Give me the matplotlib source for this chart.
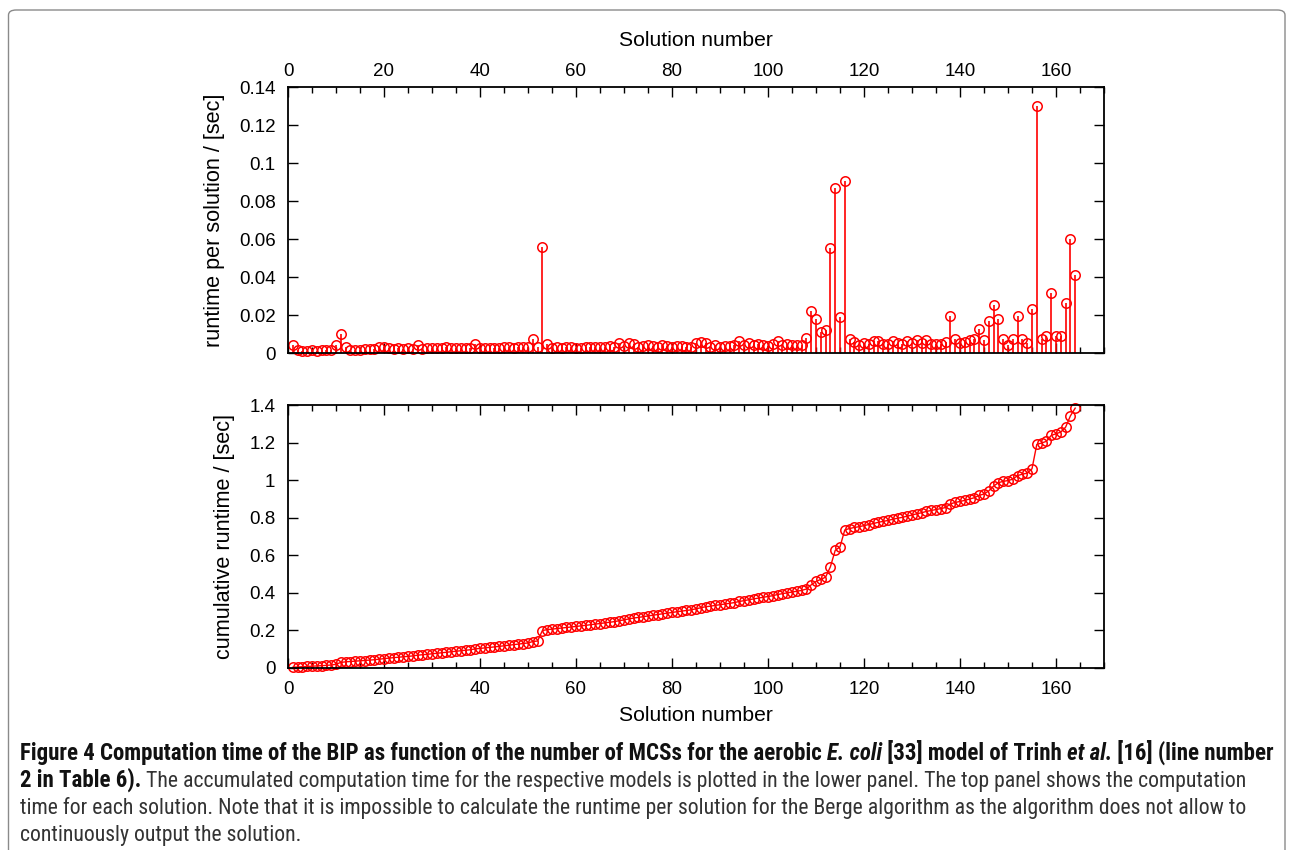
import numpy as np
import matplotlib
matplotlib.use('Agg')
import matplotlib.pyplot as plt
from matplotlib import font_manager
from matplotlib.patches import FancyBboxPatch
from matplotlib.ticker import MultipleLocator, FormatStrFormatter

W, H = 1293, 850

# runtime per solution [sec], solutions 1..164
runtime = [
    0.0040, 0.0015, 0.0012, 0.0013, 0.0015, 0.0012, 0.0016, 0.0018, 0.0017, 0.0040,
    0.0100, 0.0030, 0.0018, 0.0015, 0.0017, 0.0020, 0.0022, 0.0020, 0.0030, 0.0032,
    0.0025, 0.0022, 0.0025, 0.0022, 0.0024, 0.0023, 0.0040, 0.0022, 0.0024, 0.0026,
    0.0028, 0.0025, 0.0030, 0.0028, 0.0027, 0.0026, 0.0025, 0.0027, 0.0045, 0.0026,
    0.0028, 0.0027, 0.0026, 0.0028, 0.0030, 0.0029, 0.0028, 0.0030, 0.0032, 0.0034,
    0.0074, 0.0030, 0.0558, 0.0045, 0.0028, 0.0030, 0.0027, 0.0030, 0.0030,
    0.0028, 0.0026, 0.0030, 0.0033, 0.0030, 0.0032, 0.0034, 0.0036, 0.0033, 0.0052,
    0.0038, 0.0055, 0.0045, 0.0034, 0.0038, 0.0042, 0.0036, 0.0034, 0.0042, 0.0038,
    0.0034, 0.0038, 0.0036, 0.0032, 0.0034, 0.0052, 0.0058, 0.0055, 0.0030, 0.0042,
    0.0034, 0.0038, 0.0036, 0.0040, 0.0062, 0.0040, 0.0052, 0.0042, 0.0048, 0.0042,
    0.0038, 0.0045, 0.0062, 0.0042, 0.0046, 0.0044, 0.0043, 0.0042, 0.0077, 0.0220,
    0.0180, 0.0110, 0.0120, 0.0554, 0.0870, 0.0188, 0.0905, 0.0072, 0.0056, 0.0042,
    0.0055, 0.0050, 0.0065, 0.0065, 0.0050, 0.0046, 0.0065, 0.0055, 0.0046, 0.0065,
    0.0055, 0.0070, 0.0055, 0.0070, 0.0050, 0.0050, 0.0050, 0.0058, 0.0195, 0.0072,
    0.0055, 0.0058, 0.0070, 0.0072, 0.0126, 0.0070, 0.0170, 0.0253, 0.0180, 0.0072,
    0.0042, 0.0072, 0.0195, 0.0072, 0.0055, 0.0233, 0.1300, 0.0072, 0.0089, 0.0314,
    0.0088, 0.0090, 0.0262, 0.0602, 0.0412,
]
solution = np.arange(1, len(runtime) + 1)
cumulative = np.cumsum(runtime)

caption_lines = [
    [("Figure 4 Computation time of the BIP as function of the number of MCSs for the aerobic ", 'bold', 'normal'),
     ("E. coli", 'bold', 'italic'),
     (" [33] model of Trinh ", 'bold', 'normal'),
     ("et al.", 'bold', 'italic'),
     (" [16] (line number", 'bold', 'normal')],
    [("2 in Table 6).", 'bold', 'normal'),
     (" The accumulated computation time for the respective models is plotted in the lower panel. The top panel shows the computation", 'normal', 'normal')],
    [("time for each solution. Note that it is impossible to calculate the runtime per solution for the Berge algorithm as the algorithm does not allow to", 'normal', 'normal')],
    [("continuously output the solution.", 'normal', 'normal')],
]

# look for a narrow sans face for the caption
CAP_FONT, CAP_STRETCH = 'DejaVu Sans', 'normal'
for f in font_manager.fontManager.ttflist:
    fn = f.fname.lower()
    if ('narrow' in fn or 'condensed' in fn) and 'serif' not in fn and 'mono' not in fn:
        CAP_FONT, CAP_STRETCH = f.name, f.stretch
        if 'liberation' in fn:
            break

plt.rcParams['font.family'] = ['Liberation Sans', 'DejaVu Sans']

RED = '#ff0000'

fig = plt.figure(figsize=(W/100, H/100), dpi=100)

def ax_rect(l, t, r, b):
    return [l/W, 1-b/H, (r-l)/W, (b-t)/H]

def style(ax):
    for s in ax.spines.values():
        s.set_linewidth(1.3)
    ax.xaxis.set_major_locator(MultipleLocator(20))
    ax.xaxis.set_minor_locator(MultipleLocator(5))
    ax.tick_params(which='both', direction='in', top=True, right=True, labelsize=13.5, width=1.0)
    ax.tick_params(which='major', length=7)
    ax.tick_params(which='minor', length=4)
    ax.tick_params(axis='y', pad=9)
    ax.yaxis.set_major_formatter(FormatStrFormatter('%g'))

# top panel
ax1 = fig.add_axes(ax_rect(288, 87, 1104, 353))
ax1.vlines(solution, 0, runtime, color=RED, lw=1.2)
ax1.plot(solution, runtime, 'o', ms=6.8, mfc='none', mec=RED, mew=1.1, clip_on=False)
ax1.set_xlim(0, 170)
ax1.set_ylim(0, 0.14)
ax1.yaxis.set_major_locator(MultipleLocator(0.02))
style(ax1)
ax1.tick_params(axis='x', labelbottom=False, labeltop=True, pad=5)
ax1.xaxis.set_label_position('top')
ax1.set_xlabel('Solution number', fontsize=15.2, labelpad=12)
ax1.set_ylabel('runtime per solution / [sec]', fontsize=15.6, labelpad=10)

# bottom panel
ax2 = fig.add_axes(ax_rect(288, 405, 1104, 668))
ax2.plot(solution, cumulative, '-o', color=RED, lw=1.0, ms=6.8, mfc='none', mec=RED, mew=1.1, clip_on=False)
ax2.set_xlim(0, 170)
ax2.set_ylim(0, 1.4)
ax2.yaxis.set_major_locator(MultipleLocator(0.2))
style(ax2)
ax2.tick_params(axis='x', pad=9)
ax2.set_xlabel('Solution number', fontsize=15.2, labelpad=6)
ax2.set_ylabel('cumulative runtime / [sec]', fontsize=15.6, labelpad=10)

# frame around the figure and its caption
frame = FancyBboxPatch((8.5/W, -0.05), (1285-8.5)/W, 1.05 - 10/H,
                       boxstyle='round,pad=0,rounding_size=0.006',
                       transform=fig.transFigure, fill=False, ec='#8a8a8a', lw=1.0)
fig.patches.append(frame)

# caption
renderer = fig.canvas.get_renderer()

def text_width(s, size, weight):
    p = fig.text(0, 0, s, fontsize=size, fontweight=weight,
                 family=CAP_FONT, fontstretch=CAP_STRETCH)
    w = p.get_window_extent(renderer).width
    p.remove()
    return w

# bold size fitted to line 1, regular size fitted to line 3 (widths in the reference)
bold_size = 13.5 * 1262.0 / text_width(''.join(p[0] for p in caption_lines[0]), 13.5, 'bold')
reg_size = 13.5 * 1232.0 / text_width(caption_lines[2][0][0], 13.5, 'normal')

baselines = [760, 787, 814, 841]
for yb, parts in zip(baselines, caption_lines):
    x = 20.0
    for txt, weight, fst in parts:
        t = fig.text(x/W, 1-yb/H, txt, fontsize=bold_size if weight == 'bold' else reg_size,
                     fontweight=weight, fontstyle=fst, family=CAP_FONT, fontstretch=CAP_STRETCH,
                     va='baseline', color='#111111' if weight == 'bold' else '#333333')
        x += t.get_window_extent(renderer).width

fig.savefig('out.png', dpi=100)
